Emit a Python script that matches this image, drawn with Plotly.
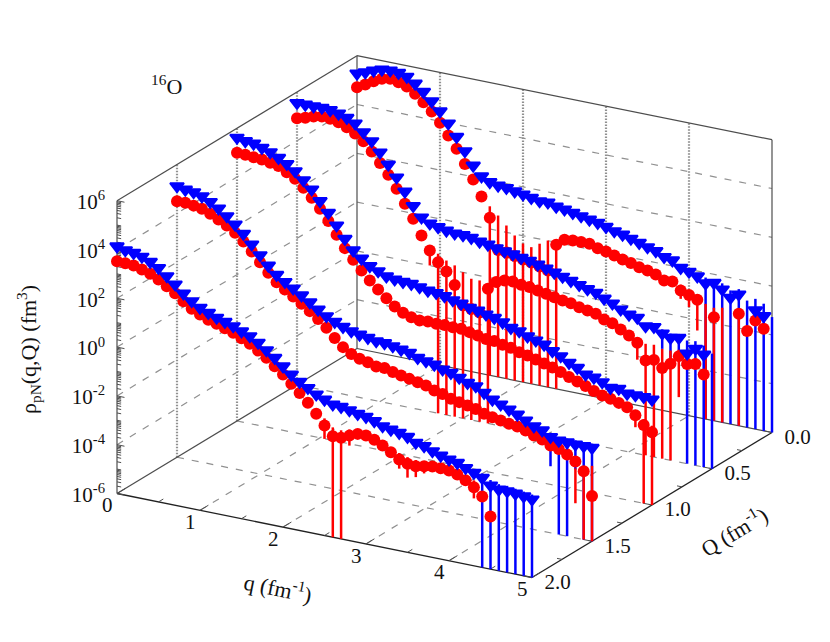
import math
import plotly.graph_objects as go

q_values = [0.0,0.1,0.2,0.3,0.4,0.5,0.6,0.7,0.8,0.9,1.0,1.1,1.2,1.3,1.4,1.5,1.6,1.7,1.8,1.9,2.0,2.1,2.2,2.3,2.4,2.5,
            2.6,2.7,2.8,2.9,3.0,3.1,3.2,3.3,3.4,3.5,3.6,3.7,3.8,3.9,4.0,4.1,4.2,4.3,4.4,4.5,4.6,4.7,4.8,4.9,5.0]

# log10 of rho_pN(q,Q); None = no symbol drawn
red_Q00 = [4.71,4.89,5.09,5.26,5.33,5.26,5.15,4.92,4.64,4.33,3.94,3.49,3.01,2.46,1.89,1.26,0.46,-0.79,-0.83,-0.90,-0.98,-1.03,-1.12,-1.22,-0.10,0.18,
           0.22,0.22,0.22,0.11,0.04,-0.05,-0.15,-0.22,-0.33,-0.39,-0.49,-0.67,-0.64,-0.94,-1.05,-1.18,None,-1.76,None,None,-1.41,-2.05,-1.55,-1.82,None]
blue_Q00 = [5.23,5.35,5.49,5.60,5.63,5.60,5.51,5.30,5.03,4.71,4.37,3.94,3.46,2.94,2.42,2.05,1.88,1.81,1.78,1.71,1.65,1.58,1.51,1.53,1.43,1.38,
            1.31,1.24,1.17,1.11,1.01,0.90,0.83,0.73,0.63,0.52,0.43,0.26,0.19,-0.05,-0.14,-0.26,-0.48,-0.39,-0.59,-0.86,-0.66,None,-1.17,-1.34,None]
red_Q05 = [4.92,5.01,5.13,5.20,5.18,5.10,4.97,4.78,4.53,4.18,3.78,3.36,2.86,2.31,1.77,1.15,0.60,0.19,-0.12,-0.60,-1.37,-1.45,-1.52,-0.48,-0.14,-0.01,
           0.02,-0.04,-0.07,-0.14,-0.21,-0.28,-0.34,-0.39,-0.48,-0.55,-0.61,-0.78,-0.86,-1.05,-1.23,-1.46,-2.11,-2.02,-2.28,-2.04,-1.66,-1.91,-1.84,-2.21,None]
blue_Q05 = [5.51,5.51,5.51,5.52,5.49,5.42,5.31,5.15,4.86,4.56,4.17,3.74,3.28,2.77,2.25,1.85,1.67,1.59,1.52,1.47,1.47,1.43,1.34,1.29,1.21,1.15,
            1.10,1.02,0.97,0.88,0.79,0.69,0.59,0.49,0.39,0.29,0.21,0.04,-0.09,-0.27,-0.41,-0.47,-0.75,-0.71,-0.91,-1.02,-0.95,-1.52,-1.26,-1.43,None]
red_Q10 = [4.99,4.98,4.95,4.92,4.86,4.79,4.61,4.41,4.11,3.77,3.39,2.95,2.46,1.98,1.57,1.20,0.86,0.56,0.27,0.00,-0.19,-0.30,-0.37,-0.34,-0.36,-0.34,
           -0.37,-0.36,-0.43,-0.50,-0.57,-0.59,-0.67,-0.73,-0.84,-0.91,-1.00,-1.10,-1.19,-1.31,-1.44,-1.56,-1.67,-1.81,-1.93,-1.99,-2.09,-2.20,-2.46,-2.79,-3.02]
blue_Q10 = [5.57,5.50,5.47,5.36,5.25,5.09,4.91,4.68,4.38,4.07,3.66,3.25,2.80,2.32,1.92,1.65,1.41,1.27,1.13,1.07,1.04,1.03,0.96,0.89,0.86,0.80,
            0.70,0.63,0.53,0.48,0.39,0.32,0.21,0.05,-0.02,-0.16,-0.26,-0.36,-0.56,-0.70,-0.90,-1.04,-1.24,-1.30,-1.42,-1.58,-1.55,-1.68,-1.68,-1.68,-1.72]
red_Q15 = [4.49,4.50,4.45,4.39,4.25,4.09,3.91,3.68,3.39,3.05,2.68,2.32,2.00,1.77,1.55,1.32,1.09,0.84,0.55,0.20,-0.11,-0.32,-0.45,-0.52,-0.63,-0.62,
           -0.72,-0.79,-0.86,-0.93,-0.99,-1.13,-1.20,-1.33,-1.40,-1.47,-1.54,-1.67,-1.74,-1.81,-1.87,-1.92,-2.01,-2.15,-2.24,-2.42,-2.49,-2.65,-2.87,-3.20,-4.15]
blue_Q15 = [5.07,5.00,4.96,4.86,4.70,4.50,4.25,3.98,3.67,3.30,2.93,2.57,2.26,2.04,1.84,1.63,1.41,1.18,0.98,0.82,0.68,0.57,0.50,0.44,0.37,0.36,
            0.30,0.23,0.17,0.03,-0.04,-0.11,-0.24,-0.31,-0.44,-0.58,-0.65,-0.85,-1.06,-1.19,-1.33,-1.47,-1.64,-1.81,-1.91,-2.11,-2.19,-2.19,-2.21,-2.21,-2.21]
red_Q20 = [3.52,3.51,3.48,3.39,3.28,3.11,2.91,2.69,2.43,2.19,2.02,1.88,1.78,1.67,1.55,1.40,1.24,1.03,0.80,0.52,0.25,-0.06,-0.37,-0.70,-1.08,-1.49,
           -1.86,-1.86,-1.70,-1.56,-1.56,-1.66,-1.83,-2.04,-2.27,-2.37,-2.40,-2.34,-2.28,-2.28,-2.30,-2.40,-2.57,-2.78,-3.09,-3.84,None,None,None,None,None]
blue_Q20 = [4.09,4.00,3.96,3.87,3.73,3.55,3.28,3.01,2.71,2.46,2.26,2.12,1.99,1.89,1.78,1.64,1.51,1.31,1.07,0.83,0.55,0.28,0.05,-0.13,-0.33,-0.47,
            -0.60,-0.63,-0.70,-0.78,-0.83,-0.94,-1.08,-1.15,-1.21,-1.31,-1.48,-1.55,-1.69,-1.80,-1.89,-1.96,-2.10,-2.23,-2.37,-2.61,-2.71,-2.71,-2.74,-2.78,-2.84]

# error bars: q, log10 lower end, log10 upper end
err_red_Q00_q = [1.6,1.7,1.8,1.9,2.0,2.1,2.2,2.3,2.4,3.9,4.0,4.1,4.2,4.3,4.4,4.6]
err_red_Q00_lo = [-6,-6,-6,-6,-6,-6,-6,-6,-6,-1.28,-1.55,-2.44,-6,-6,-6,-6]
err_red_Q00_hi = [0.93,0.62,0.28,-0.06,-0.32,-0.40,-0.19,0.01,-0.05,-0.7,-0.85,-0.95,-1.28,-1.37,-1.30,-1.28]
err_blue_Q00_q = [4.2,4.3,4.4,4.5,4.6,4.7,4.8,4.9,5.0]
err_blue_Q00_lo = [-6,-6,-6,-6,-6,-6,-6,-6,-6]
err_blue_Q00_hi = [-0.2,-0.2,-0.3,-0.52,-0.4,-0.80,-0.66,-0.79,-1.27]
err_red_Q05_q = [1.6,1.7,1.8,1.9,2.0,2.1,2.2,2.3,4.1,4.2,4.3,4.4,4.5,4.6]
err_red_Q05_lo = [-0.01,-6,-6,-6,-6,-6,-6,-6,-2.15,-6,-6,-6,-6,-3.34]
err_red_Q05_hi = [0.75,0.54,0.33,0.20,-0.01,-0.21,-0.21,-0.30,-1.30,-1.43,-1.40,-1.50,-1.5,-1.40]
err_blue_Q05_q = [4.4,4.5,4.6,4.7,4.8,4.9,5.0]
err_blue_Q05_lo = [-1.50,-2.04,-1.5,-6,-6,-6,-6]
err_blue_Q05_hi = [-0.7,-0.8,-0.75,-0.95,-0.91,-1.02,-1.28]
err_red_Q10_q = [4.8,4.9,5.0]
err_red_Q10_lo = [-2.95,-6,-6]
err_red_Q10_hi = [-2.3,-2.55,-2.75]
err_blue_Q10_q = []
err_blue_Q10_lo = []
err_blue_Q10_hi = []
err_red_Q15_q = [4.8,4.9,5.0]
err_red_Q15_lo = [-4.58,-6,-6]
err_red_Q15_hi = [-3.15,-3.03,-2.91]
err_blue_Q15_q = [4.5,4.6,4.7,4.8,4.9,5.0]
err_blue_Q15_lo = [-3.27,-6,-6,-3.2,-6,-6]
err_blue_Q15_hi = [-1.9,-2.0,-2.0,-2.0,-2.0,-2.0]
err_red_Q20_q = [2.5,2.6,2.7,2.8,3.4,3.5,3.6,3.7,4.3]
err_red_Q20_lo = [-2.04,-6,-6,-2.11,-2.64,-2.94,-2.85,-2.63,-3.24]
err_red_Q20_hi = [-1.2,-1.5,-1.55,-1.45,-2.0,-2.1,-2.15,-2.2,-2.5]
err_blue_Q20_q = [4.4,4.5,4.6,4.7,4.8,4.9,5.0]
err_blue_Q20_lo = [-6,-6,-6,-6,-6,-6,-6]
err_blue_Q20_hi = [-2.15,-2.35,-2.45,-2.45,-2.5,-2.55,-2.6]

series = [
    (0.0, red_Q00, blue_Q00, (err_red_Q00_q, err_red_Q00_lo, err_red_Q00_hi), (err_blue_Q00_q, err_blue_Q00_lo, err_blue_Q00_hi)),
    (0.5, red_Q05, blue_Q05, (err_red_Q05_q, err_red_Q05_lo, err_red_Q05_hi), (err_blue_Q05_q, err_blue_Q05_lo, err_blue_Q05_hi)),
    (1.0, red_Q10, blue_Q10, (err_red_Q10_q, err_red_Q10_lo, err_red_Q10_hi), (err_blue_Q10_q, err_blue_Q10_lo, err_blue_Q10_hi)),
    (1.5, red_Q15, blue_Q15, (err_red_Q15_q, err_red_Q15_lo, err_red_Q15_hi), (err_blue_Q15_q, err_blue_Q15_lo, err_blue_Q15_hi)),
    (2.0, red_Q20, blue_Q20, (err_red_Q20_q, err_red_Q20_lo, err_red_Q20_hi), (err_blue_Q20_q, err_blue_Q20_lo, err_blue_Q20_hi)),
]

q_ticks = [0, 1, 2, 3, 4, 5]
Q_ticks = [0.0, 0.5, 1.0, 1.5, 2.0]
z_ticks = [-6, -4, -2, 0, 2, 4, 6]
z_minor_mantissa = [2, 3, 4, 5, 6, 7, 8, 9, 10, 20, 30, 40, 50, 60, 70, 80, 90]


def project(q, Q, L):
    """Orthographic view of the box (q, Q, log10 rho) onto the page."""
    return (117.0 + 83.0 * q + 120.0 * (2.0 - Q),
            493.5 + 16.8 * q - 72.5 * (2.0 - Q) - 24.4 * (L + 6.0))


fig = go.Figure()


def segs(pairs, color, width, dash="solid"):
    xs, ys = [], []
    for a, b in pairs:
        pa, pb = project(*a), project(*b)
        xs += [pa[0], pb[0], None]
        ys += [pa[1], pb[1], None]
    fig.add_trace(go.Scatter(x=xs, y=ys, mode="lines", hoverinfo="skip",
                             line=dict(color=color, width=width, dash=dash)))


GRID = "#909090"
FRAME = "#4d4d4d"
DASH = "7px,8px"
# grid: floor
segs([((q, 2, -6), (q, 0, -6)) for q in q_ticks[1:-1]], GRID, 1.2, DASH)
segs([((0, Q, -6), (5, Q, -6)) for Q in Q_ticks[1:-1]], GRID, 1.2, DASH)
# grid: walls
segs([((0, 2, z), (0, 0, z)) for z in z_ticks[1:-1]], GRID, 1.2, DASH)
segs([((0, 0, z), (5, 0, z)) for z in z_ticks[1:-1]], GRID, 1.2, DASH)
segs([((0, Q, -6), (0, Q, 6)) for Q in Q_ticks[1:-1]], GRID, 2.2, "1.5px,1.5px")
segs([((q, 0, -6), (q, 0, 6)) for q in q_ticks[1:-1]], GRID, 2.2, "1.5px,1.5px")
# frame
segs([((0, 2, -6), (0, 0, -6)), ((0, 0, -6), (5, 0, -6)),
      ((0, 0, -6), (0, 0, 6)), ((5, 0, -6), (5, 0, 6)),
      ((0, 2, 6), (0, 0, 6)), ((0, 0, 6), (5, 0, 6)), ((0, 2, -6), (0, 2, 6))], FRAME, 1.2)
segs([((0, 2, -6), (5, 2, -6)), ((5, 2, -6), (5, 0, -6))], "#222222", 1.3)
# ticks
tk = []
for i in range(0, 11):
    q = i * 0.5
    tk.append(((q, 2, -6), (q, 2 - (0.07 if i % 2 == 0 else 0.04), -6)))
for i in range(0, 9):
    Q = i * 0.25
    tk.append(((5, Q, -6), (5 - (0.11 if i % 2 == 0 else 0.06), Q, -6)))
for z in z_ticks:
    tk.append(((0, 2, z), (0.09, 2, z)))
    if z < 6:
        for m in z_minor_mantissa:
            L = z + math.log10(m)
            if L < z + 2:
                tk.append(((0, 2, L), (0.05, 2, L)))
segs(tk, FRAME, 1)

for Q, red, blue, err_r, err_b in series:
    for err, col in ((err_b, "#0000ff"), (err_r, "#ff0000")):
        if err[0]:
            segs([((q, Q, lo), (q, Q, hi)) for q, lo, hi in zip(*err)], col, 2.5)
    pts = [project(q, Q, v) if v is not None else (None, None) for q, v in zip(q_values, red)]
    fig.add_trace(go.Scatter(x=[p[0] for p in pts], y=[p[1] for p in pts], mode="markers", hoverinfo="skip",
                             marker=dict(color="#ff0000", symbol="circle", size=12, line=dict(width=0))))
    pts = [project(q, Q, v) if v is not None else (None, None) for q, v in zip(q_values, blue)]
    fig.add_trace(go.Scatter(x=[p[0] for p in pts], y=[p[1] - 1 if p[1] is not None else None for p in pts],
                             mode="markers", hoverinfo="skip",
                             marker=dict(color="#0000ff", symbol="triangle-down", size=12,
                                         line=dict(width=2, color="#0000ff"))))


def tick_text(pts, texts, position):
    fig.add_trace(go.Scatter(x=[p[0] for p in pts], y=[p[1] for p in pts], text=texts, mode="text",
                             textposition=position, hoverinfo="skip",
                             textfont=dict(family="Liberation Serif", size=21, color="#111111")))


tick_text([(project(0, 2, z)[0] - 12, project(0, 2, z)[1] + 3) for z in z_ticks],
          [f"10<sup>{z}</sup>" for z in z_ticks], "middle left")
tick_text([(project(q, 2, -6)[0] - 9.7, project(q, 2, -6)[1] + 13.5) for q in q_ticks],
          [str(q) for q in q_ticks], "middle center")
tick_text([(project(5, Q, -6)[0] + 25.5, project(5, Q, -6)[1] + 6) for Q in Q_ticks],
          [f"{Q:.1f}" for Q in Q_ticks], "middle center")

ann = []


def label(x, y, text, angle=0, size=22):
    ann.append(dict(x=x, y=y, text=text, textangle=angle, showarrow=False, xref="x", yref="y",
                    font=dict(family="Liberation Serif", size=size, color="#111111"),
                    xanchor="center", yanchor="middle"))


label(278, 587, "q (fm<sup>-1</sup>)", 11.4)
label(733, 531, "Q (fm<sup>-1</sup>)", -31)
label(28, 350, "ρ<sub>pN</sub>(q,Q) (fm<sup>3</sup>)", -90)
label(166, 85, "<sup>16</sup>O", 0)

fig.update_layout(
    width=830, height=642, autosize=False, showlegend=False,
    margin=dict(l=0, r=0, t=0, b=0), paper_bgcolor="white", plot_bgcolor="white",
    xaxis=dict(range=[0, 830], visible=False, fixedrange=True),
    yaxis=dict(range=[642, 0], visible=False, fixedrange=True),
    annotations=ann,
)
fig.write_html("out.html", config=dict(displayModeBar=False),
               post_script="document.body.style.margin='0';")
